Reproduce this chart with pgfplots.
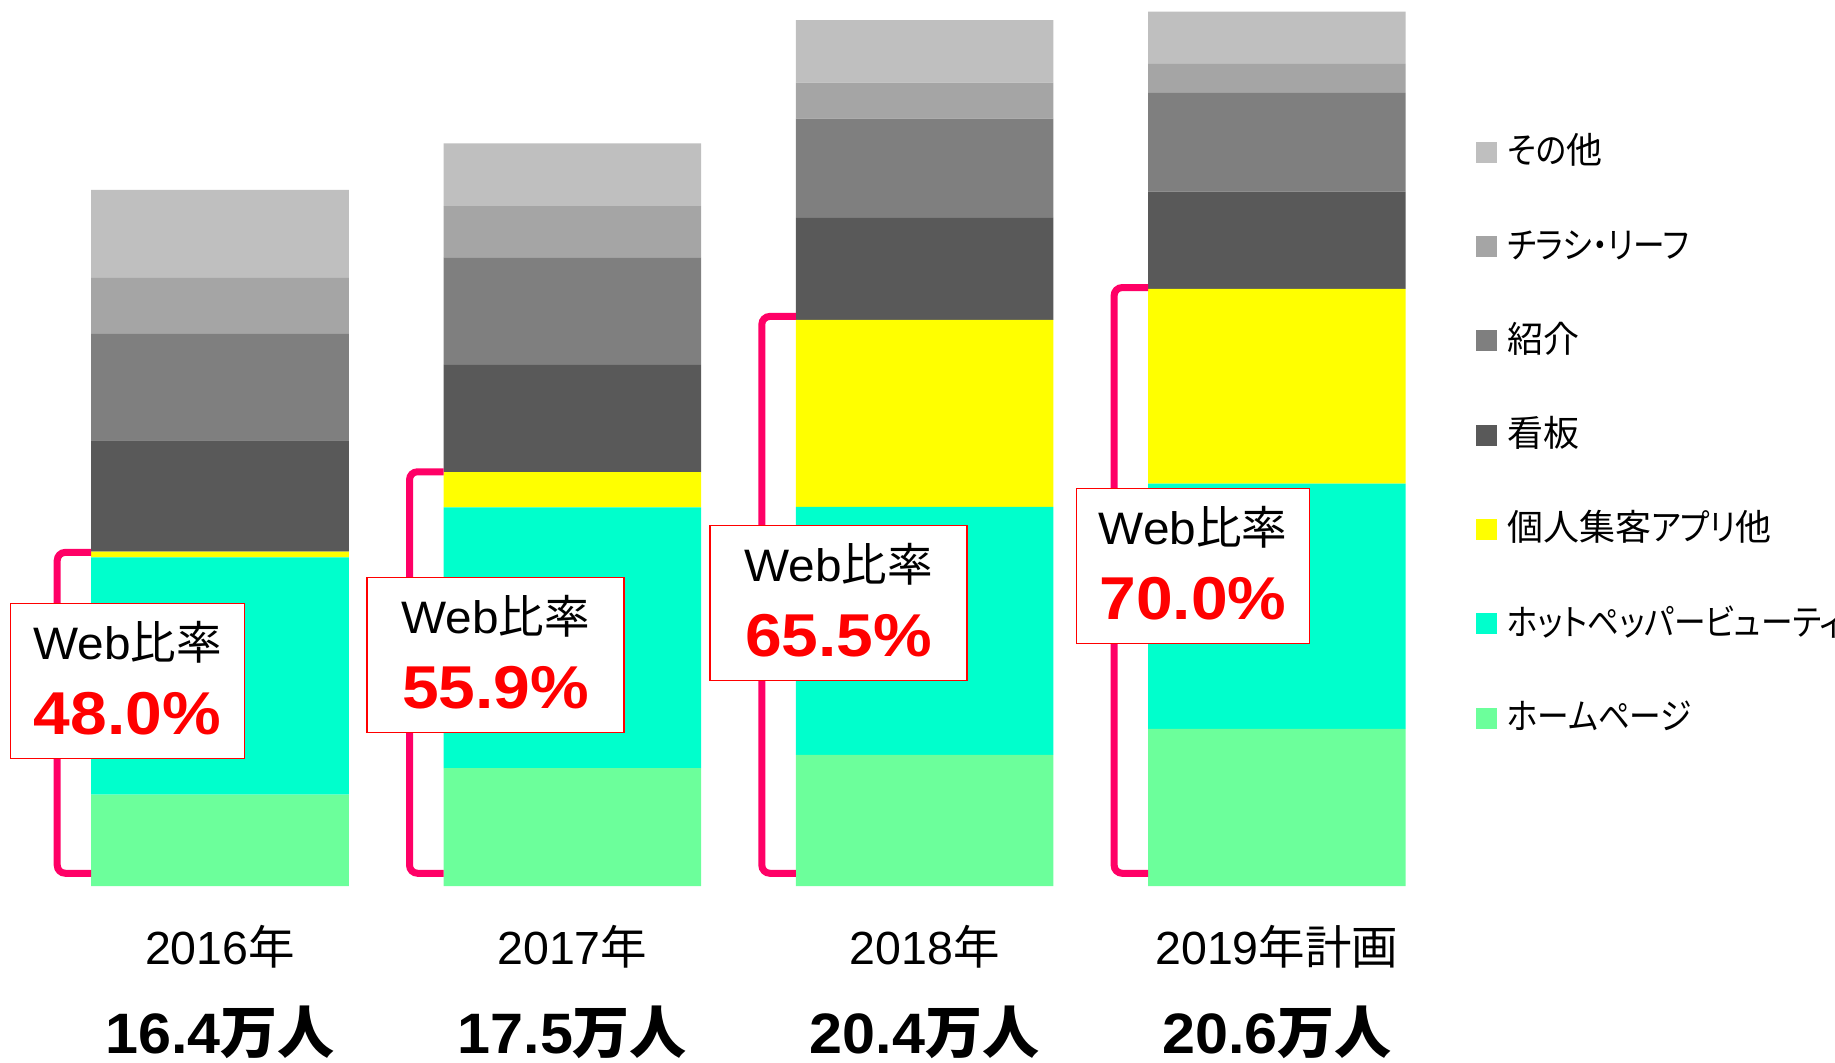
\documentclass[border=0pt]{standalone}
\usepackage{fontspec}
\setmainfont{Liberation Sans}
\newfontfamily\jp{Noto Sans CJK JP}
\newfontfamily\jpp{Noto Sans CJK JP}[RawFeature=+palt]
\newfontfamily\kn{Noto Sans CJK JP}[RawFeature=+palt, FakeStretch=0.88]
\newfontfamily\pctfont{Liberation Sans}[FakeStretch=1.09]
\newfontfamily\webfont{Liberation Sans}[FakeStretch=1.05]
\newfontfamily\totfont{Liberation Sans}[FakeStretch=1.04]
\usepackage{pgfplots}
\pgfplotsset{compat=1.18}
\definecolor{cHome}{HTML}{6CFF9B}
\definecolor{cHPB}{HTML}{00FFCC}
\definecolor{cApp}{HTML}{FFFF00}
\definecolor{cKan}{HTML}{595959}
\definecolor{cSho}{HTML}{7F7F7F}
\definecolor{cChi}{HTML}{A5A5A5}
\definecolor{cOth}{HTML}{BFBFBF}
\definecolor{cPink}{HTML}{FF0066}
\definecolor{cRed}{HTML}{FF0000}
\pgfplotsset{sq/.style={legend image code/.code={\fill[##1,draw=none] (0pt,-7pt) rectangle (21pt,14pt); \path (31pt,0pt);}}}
\newcommand{\bracket}[2]{%
  \draw[cPink, line width=7pt, rounded corners=8pt] (axis cs:#1-0.3655,#2) -- (axis cs:#1-0.462,#2) -- (axis cs:#1-0.462,0.30) -- (axis cs:#1-0.3655,0.30);}
\newcommand{\webbox}[4]{% x, y, width, text
  \node[draw=cRed, line width=1.5pt, fill=white, minimum width=#3, minimum height=155pt, inner sep=0pt] at (axis cs:#1,#2) {};
  \node[anchor=base, font=\fontsize{45.5pt}{45pt}\selectfont] at ([yshift=21.3pt]axis cs:#1,#2) {{\webfont Web}{\jp 比率}};
  \node[anchor=base, text=cRed, font=\fontsize{60.5pt}{60pt}\selectfont\pctfont\bfseries] at ([yshift=-53.7pt]axis cs:#1,#2) {#4};}
\newcommand{\annot}{%
  \bracket{0}{7.86}\bracket{1}{9.76}\bracket{2}{13.42}\bracket{3}{14.1}
  \webbox{-0.2626}{4.83}{234pt}{48.0\%}
  \webbox{0.7826}{5.448}{257pt}{55.9\%}
  \webbox{1.7556}{6.668}{257pt}{65.5\%}
  \webbox{2.762}{7.54}{233pt}{70.0\%}
  \node[anchor=base, font=\fontsize{46.5pt}{46pt}\selectfont] at (axis cs:0,-1.85) {2016{\jp 年}};
  \node[anchor=base, font=\fontsize{46.5pt}{46pt}\selectfont] at (axis cs:1,-1.85) {2017{\jp 年}};
  \node[anchor=base, font=\fontsize{46.5pt}{46pt}\selectfont] at (axis cs:2,-1.85) {2018{\jp 年}};
  \node[anchor=base, font=\fontsize{46.5pt}{46pt}\selectfont] at (axis cs:3,-1.85) {2019{\jp 年計画}};
  \node[anchor=base, font=\fontsize{57pt}{57pt}\selectfont\bfseries] at (axis cs:0,-3.95) {{\totfont 16.4}{\jp 万人}};
  \node[anchor=base, font=\fontsize{57pt}{57pt}\selectfont\bfseries] at (axis cs:1,-3.95) {{\totfont 17.5}{\jp 万人}};
  \node[anchor=base, font=\fontsize{57pt}{57pt}\selectfont\bfseries] at (axis cs:2,-3.95) {{\totfont 20.4}{\jp 万人}};
  \node[anchor=base, font=\fontsize{57pt}{57pt}\selectfont\bfseries] at (axis cs:3,-3.95) {{\totfont 20.6}{\jp 万人}};
}
\begin{document}
\begin{tikzpicture}
\useasboundingbox (0pt,0pt) rectangle (1835pt,1062pt);
\begin{axis}[
  at={(43.85pt,176pt)}, anchor=south west,
  scale only axis, width=1409.2pt, height=874.3pt,
  xmin=-0.5, xmax=3.5, ymin=0, ymax=20.6,
  axis lines=none, clip=false,
  ybar stacked, bar width=257.5pt,
  reverse legend,
  legend cell align=left,
  legend style={at={(1.0163,0.8538)}, anchor=north west, draw=none, fill=none,
    inner sep=0pt, row sep=62.3pt,
    nodes={inner sep=0pt, text height=24pt, text depth=8pt,
      font=\fontsize{36pt}{36pt}\selectfont\jpp}},
  after end axis/.code={\annot},
]
\addplot[fill=cHome, draw=none, sq] coordinates {(0,2.15) (1,2.78) (2,3.09) (3,3.70)};
\addplot[fill=cHPB, draw=none, sq] coordinates {(0,5.59) (1,6.14) (2,5.84) (3,5.78)};
\addplot[fill=cApp, draw=none, sq] coordinates {(0,0.14) (1,0.83) (2,4.41) (3,4.59)};
\addplot[fill=cKan, draw=none, sq] coordinates {(0,2.62) (1,2.53) (2,2.40) (3,2.29)};
\addplot[fill=cSho, draw=none, sq] coordinates {(0,2.51) (1,2.53) (2,2.34) (3,2.33)};
\addplot[fill=cChi, draw=none, sq] coordinates {(0,1.32) (1,1.21) (2,0.85) (3,0.68)};
\addplot[fill=cOth, draw=none, sq] coordinates {(0,2.07) (1,1.48) (2,1.47) (3,1.23)};
\legend{{\kn ホームページ}, {\kn ホットペッパービューティ}, 個人集客{\kn アプリ}他, 看板, 紹介, {\kn チラシ・リーフ}, {\kn その}他}
\end{axis}
\end{tikzpicture}
\end{document}
